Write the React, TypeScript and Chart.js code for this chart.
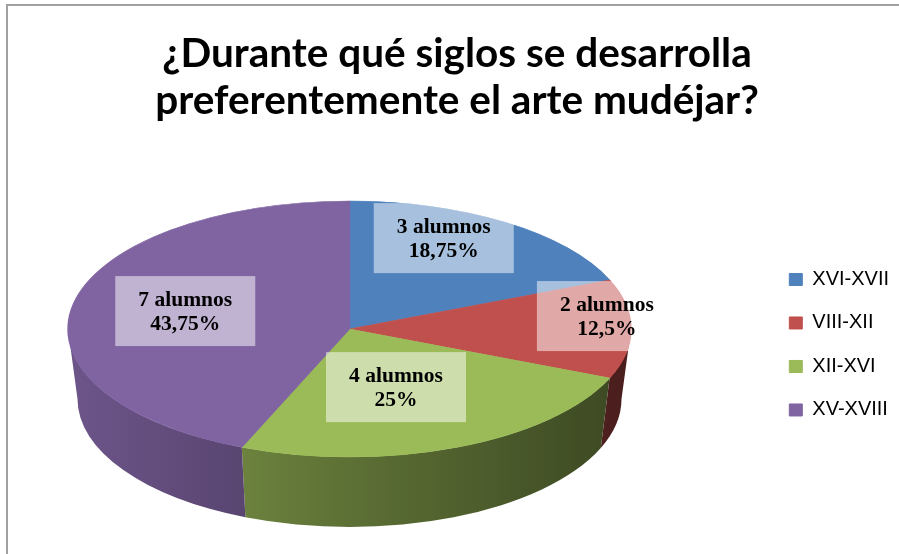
import React, { useEffect, useRef } from 'react';
import { Chart, registerables } from 'chart.js';

Chart.register(...registerables);

// ---- data ----
const categories = ['XVI-XVII', 'VIII-XII', 'XII-XVI', 'XV-XVIII'];
const students = [3, 2, 4, 7];
const titleLines = ['¿Durante qué siglos se desarrolla', 'preferentemente el arte mudéjar?'];
const unitLabel = 'alumnos';

// ---- style ----
const colors = ['#4F81BD', '#C0504D', '#9BBB59', '#8064A2'];
const labelRadius = [0.785, 0.92, 0.483, 0.6];
const labelShiftDeg = [-8.5, -6.3, 2.5, 2.25];
const PIE = { cx: 349.5, cy: 329, rx: 281.5, ry: 128, depth: 70, rxBottom: 272 };

function shade(hex: string, f: number): string {
  const n = parseInt(hex.slice(1), 16);
  const r = Math.round(((n >> 16) & 255) * f);
  const g = Math.round(((n >> 8) & 255) * f);
  const b = Math.round((n & 255) * f);
  return `rgb(${r},${g},${b})`;
}

function formatPct(v: number, total: number): string {
  const p = Math.round((v / total) * 10000) / 100;
  return String(p).replace('.', ',') + '%';
}

const pie3d = {
  id: 'pie3d',
  beforeDatasetsDraw(chart: any) {
    const meta = chart.getDatasetMeta(0);
    const ctx: CanvasRenderingContext2D = chart.ctx;
    const { cx, cy, rx, ry, depth, rxBottom } = PIE;
    meta.data.forEach((arc: any, i: number) => {
      const a = Math.max(arc.startAngle, 0);
      const b = Math.min(arc.endAngle, Math.PI);
      if (b <= a) return;
      const g = ctx.createLinearGradient(cx - rx, 0, cx + rx, 0);
      g.addColorStop(0, shade(colors[i], 0.85));
      g.addColorStop(0.5, shade(colors[i], 0.6));
      g.addColorStop(1, shade(colors[i], 0.38));
      ctx.beginPath();
      ctx.ellipse(cx, cy, rx, ry, 0, a, b, false);
      ctx.ellipse(cx, cy + depth, rxBottom, ry, 0, b, a, true);
      ctx.closePath();
      ctx.fillStyle = g;
      ctx.fill();
    });
    const el = meta.data[0];
    const sx = rx / el.outerRadius;
    const sy = ry / el.outerRadius;
    ctx.save();
    ctx.translate(cx, cy);
    ctx.scale(sx, sy);
    ctx.translate(-el.x, -el.y);
  },
  afterDatasetsDraw(chart: any) {
    const ctx: CanvasRenderingContext2D = chart.ctx;
    ctx.restore();
    const meta = chart.getDatasetMeta(0);
    const { cx, cy, rx, ry } = PIE;
    const total = students.reduce((s, v) => s + v, 0);
    ctx.save();
    meta.data.forEach((arc: any, i: number) => {
      const mid = (arc.startAngle + arc.endAngle) / 2 + (labelShiftDeg[i] * Math.PI) / 180;
      const px = cx + Math.cos(mid) * rx * labelRadius[i];
      const py = cy + Math.sin(mid) * ry * labelRadius[i];
      ctx.fillStyle = 'rgba(255,255,255,0.5)';
      ctx.fillRect(px - 70, py - 35, 140, 70);
      ctx.fillStyle = '#000';
      ctx.font = 'bold 21.5px "Liberation Serif", "Times New Roman", serif';
      ctx.textAlign = 'center';
      ctx.textBaseline = 'alphabetic';
      ctx.fillText(`${students[i]} ${unitLabel}`, px, py - 5);
      ctx.fillText(formatPct(students[i], total), px, py + 19);
    });
    ctx.restore();
  },
};

export default function App() {
  const ref = useRef<HTMLCanvasElement>(null);
  useEffect(() => {
    const chart = new Chart(ref.current as HTMLCanvasElement, {
      type: 'pie',
      data: {
        labels: categories,
        datasets: [
          {
            data: students,
            backgroundColor: colors,
            borderColor: colors,
            borderWidth: 1,
            clip: false,
          } as any,
        ],
      },
      options: {
        responsive: false,
        animation: false,
        devicePixelRatio: 1,
        events: [],
        rotation: 0,
        layout: { padding: { top: 0, right: 0, bottom: 0, left: 15 } },
        plugins: {
          title: {
            display: true,
            text: titleLines,
            color: '#000',
            font: { family: 'Lato', weight: 'bold', size: 40.5, lineHeight: 1.16 },
            padding: { top: 30, bottom: 11.5 },
          },
          legend: {
            position: 'right',
            align: 'center',
            fullSize: false,
            labels: {
              boxWidth: 13,
              boxHeight: 12,
              padding: 23.5,
              color: '#000',
              font: { family: '"Liberation Sans", Arial, sans-serif', size: 20 },
            },
          },
          tooltip: { enabled: false },
        },
      } as any,
      plugins: [pie3d],
    });
    return () => chart.destroy();
  }, []);
  return (
    <div
      style={{
        position: 'absolute',
        left: 0,
        top: 0,
        width: 899,
        height: 554,
        overflow: 'hidden',
        background: '#fff',
      }}
    >
      <div
        style={{
          position: 'absolute',
          left: 6,
          top: 4,
          width: 1000,
          height: 1000,
          borderLeft: '2px solid #a0a0a0',
          borderTop: '2px solid #a0a0a0',
        }}
      />
      <canvas ref={ref} width={899} height={554} style={{ position: 'absolute', left: 0, top: 0 }} />
    </div>
  );
}
